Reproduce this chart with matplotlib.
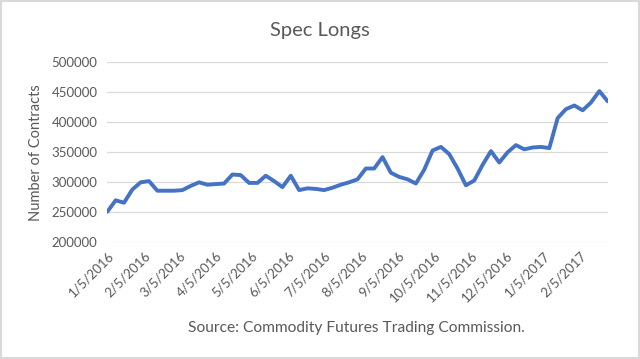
import pandas as pd
import matplotlib
matplotlib.use("Agg")
import matplotlib.pyplot as plt
from matplotlib.patches import Rectangle
from matplotlib.transforms import ScaledTranslation

plt.rcParams['font.family'] = ['Lato', 'DejaVu Sans']

# weekly COT report dates, starting Tuesday 1/5/2016
dates = pd.date_range('2016-01-05', periods=61, freq='7D')
spec_longs = [
    251000, 270000, 266000, 288000, 300000, 302000, 286000, 286000, 286000, 287000,
    294000, 300000, 296000, 297000, 298000, 313000, 312000, 299000, 299000, 311000,
    302000, 292000, 311000, 287000, 290000, 289000, 287000, 291000, 296000, 300000,
    305000, 323000, 323000, 342000, 316000, 309000, 305000, 298000, 321000, 353000,
    359000, 347000, 323000, 295000, 303000, 329000, 352000, 333000, 350000, 362000,
    355000, 358000, 359000, 357000, 407000, 422000, 428000, 420000, 433000, 452000,
    435000,
]
tick_dates = pd.date_range('2016-01-01', '2017-02-01', freq='MS') + pd.Timedelta(days=4)
tick_labels = [f"{d.month}/{d.day}/{d.year}" for d in tick_dates]
y_ticks = [200000, 250000, 300000, 350000, 400000, 450000, 500000]

fig = plt.figure(figsize=(6.4, 3.59), dpi=100)
ax = fig.add_axes([0.1677, 0.325, 0.7818, 0.5015])

ax.plot(dates, spec_longs, color='#4472C4', linewidth=2.8, solid_joinstyle='round',
        solid_capstyle='round', zorder=3)

ax.set_xlim(dates[0], dates[-1])
ax.set_ylim(200000, 500000)
ax.set_yticks(y_ticks)
ax.set_yticklabels([str(v) for v in y_ticks])
ax.set_xticks(tick_dates)
ax.set_xticklabels(tick_labels, rotation=45, ha='right', va='top', rotation_mode='anchor')
shift = ScaledTranslation(3 / 100, 0, fig.dpi_scale_trans)
for lbl in ax.get_xticklabels():
    lbl.set_transform(lbl.get_transform() + shift)

ax.grid(axis='y', color='#D9D9D9', linewidth=0.9)
ax.set_axisbelow(True)
for s in ax.spines.values():
    s.set_visible(False)
ax.tick_params(length=0, labelsize=9.5, colors='#595959')
ax.tick_params(axis='y', pad=7)
ax.tick_params(axis='x', pad=5)

ax.set_ylabel('Number of Contracts', fontsize=10.5, color='#595959', labelpad=6)
fig.text(0.5, 0.915, 'Spec Longs', ha='center', va='center', fontsize=14.5, color='#595959')
fig.text(0.557, 0.086, 'Source: Commodity Futures Trading Commission.', ha='center',
         va='center', fontsize=11.2, color='#595959')

fig.patches.append(Rectangle((0.002, 0.003), 0.996, 0.994, transform=fig.transFigure,
                             fill=False, edgecolor='#D9D9D9', linewidth=1.5))

fig.savefig('out.png', dpi=100)
